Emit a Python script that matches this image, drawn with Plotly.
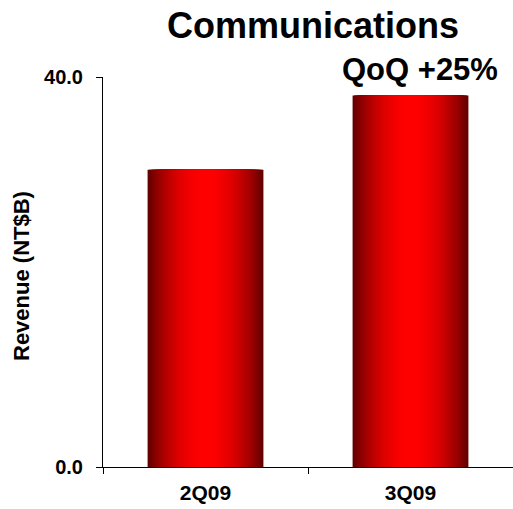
import plotly.graph_objects as go

# Quarterly revenue for the Communications segment (NT$ billions)
quarters = ["2Q09", "3Q09"]
revenue = [30.5, 38.1]
y_ticks = [0, 40]
y_tick_labels = ["0.0", "40.0"]

FONT = "Arial, Liberation Sans, sans-serif"
BAR_WIDTH = 0.565
LAYERS = 40

# Plot area in pixels
PLOT_L, PLOT_W = 103, 410
PLOT_T, PLOT_H = 77, 390


def px_x(x):
    return (x - PLOT_L) / PLOT_W


def px_y(y):
    return 1 - (y - PLOT_T) / PLOT_H


fig = go.Figure()

# Cylinder-like horizontal shading: stacked overlay bars, each narrower and brighter
for i in range(LAYERS):
    d = 1 - i / LAYERS              # 1 at the outer edge, towards 0 at the centre
    r = int(round(255 - 155 * d ** 2))
    fig.add_trace(go.Bar(
        x=quarters,
        y=revenue,
        width=BAR_WIDTH * d,
        marker=dict(color=f"rgb({r},0,0)", line=dict(width=0)),
        hoverinfo="skip",
        showlegend=False,
    ))

fig.update_layout(
    width=513,
    height=509,
    barmode="overlay",
    plot_bgcolor="white",
    paper_bgcolor="white",
    margin=dict(l=PLOT_L, r=513 - PLOT_L - PLOT_W, t=PLOT_T, b=509 - PLOT_T - PLOT_H),
    font=dict(family=FONT, color="black"),
    xaxis=dict(
        type="category",
        range=[-0.5, 1.5],
        tickvals=quarters,
        ticktext=[f"<b>{q}</b>" for q in quarters],
        showline=True,
        linecolor="black",
        linewidth=1,
        ticks="outside",
        tickson="boundaries",
        ticklen=6,
        tickcolor="black",
        tickfont=dict(size=21, family=FONT),
        ticklabelstandoff=7,
        showgrid=False,
        fixedrange=True,
    ),
    yaxis=dict(
        range=[0, 40],
        tickvals=y_ticks,
        ticktext=[f"<b>{t}</b>" for t in y_tick_labels],
        showline=True,
        linecolor="black",
        linewidth=1,
        ticks="outside",
        ticklen=6,
        tickcolor="black",
        tickfont=dict(size=20, family=FONT),
        ticklabelstandoff=9,
        showgrid=False,
        zeroline=False,
        fixedrange=True,
    ),
    annotations=[
        dict(text="<b>Communications</b>", x=px_x(313), y=px_y(25),
             xref="paper", yref="paper", xanchor="center", yanchor="middle",
             showarrow=False, font=dict(size=36, family=FONT)),
        dict(text="<b>QoQ +25%</b>", x=px_x(420), y=px_y(69),
             xref="paper", yref="paper", xanchor="center", yanchor="middle",
             showarrow=False, font=dict(size=31, family=FONT)),
        dict(text="<b>Revenue (NT$B)</b>", x=px_x(21), y=px_y(276),
             xref="paper", yref="paper", xanchor="center", yanchor="middle",
             textangle=-90, showarrow=False, font=dict(size=22, family=FONT)),
    ],
)

fig.write_html("out.html", config={"displayModeBar": False, "staticPlot": True})
